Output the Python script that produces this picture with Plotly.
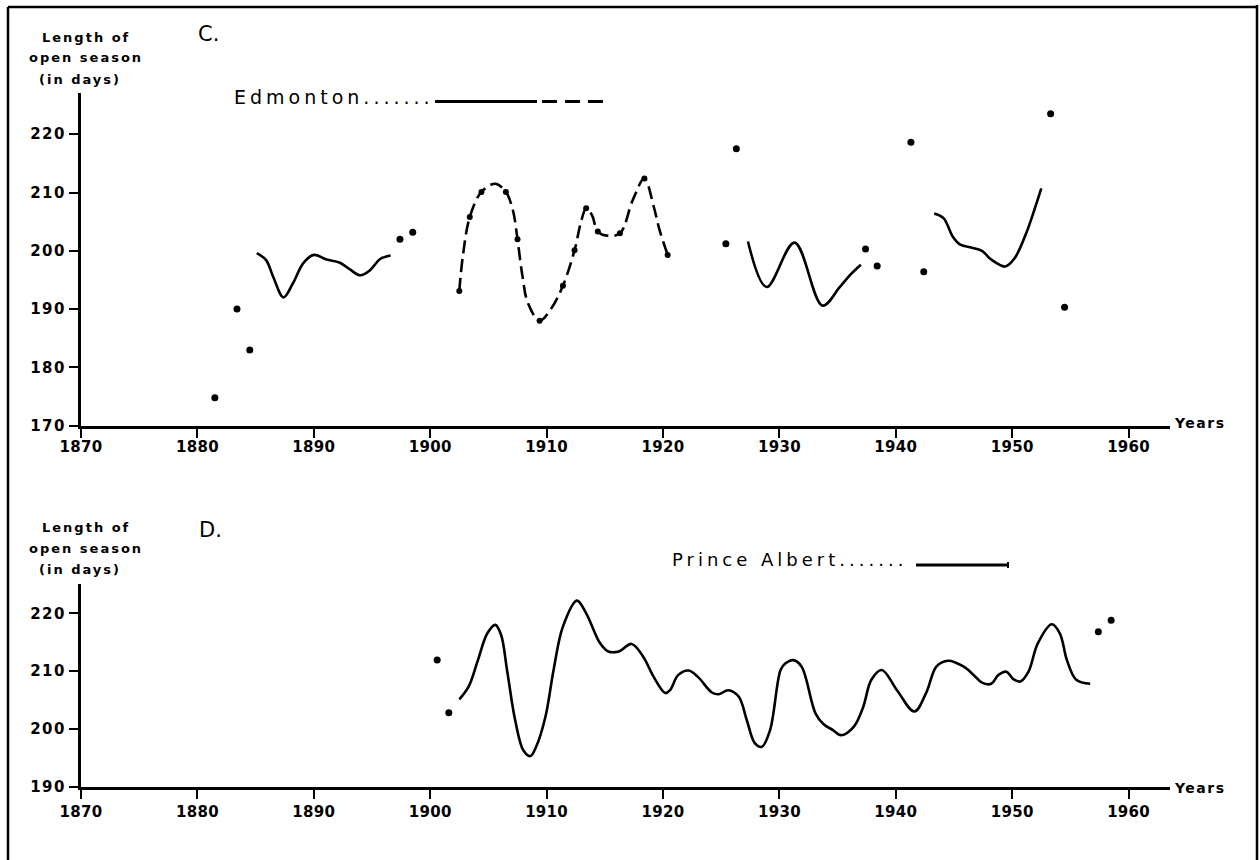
import plotly.graph_objects as go

# ---------------- C. Edmonton ----------------
# isolated annual values
edm_dot_years = [1881.5, 1883.4, 1884.5, 1897.4, 1898.5, 1925.4, 1926.3,
                 1937.4, 1938.4, 1941.3, 1942.4, 1953.3, 1954.5]
edm_dot_vals = [174.8, 190.0, 183.0, 202.0, 203.2, 201.2, 217.5,
                200.3, 197.4, 218.6, 196.4, 223.5, 190.3]

# smoothed solid segments (None separates the pieces)
edm_solid_years = [1885.1, 1885.9, 1886.5, 1887.4, 1888.2, 1889.1, 1890.0, 1891.1,
                   1892.2, 1893.1, 1894.0, 1894.8, 1895.7, 1896.6, None,
                   1927.3, 1928.9, 1931.3, 1933.7, 1935.2, 1936.1, 1937.0, None,
                   1943.3, 1944.1, 1944.9, 1945.5, 1946.4, 1947.4, 1948.2, 1949.4,
                   1950.2, 1951.2, 1951.9, 1952.5]
edm_solid_vals = [199.6, 198.4, 195.6, 192.0, 194.4, 197.9, 199.3, 198.5,
                  198.0, 196.8, 195.8, 196.6, 198.6, 199.2, None,
                  201.6, 193.8, 201.4, 190.6, 193.8, 195.9, 197.6, None,
                  206.4, 205.6, 202.4, 201.1, 200.6, 200.0, 198.5, 197.3,
                  198.7, 203.0, 207.0, 210.7]

# dashed segment 1902-1920
edm_dash_years = [1902.5, 1902.8, 1903.4, 1904.4, 1905.6, 1906.5, 1907.1, 1907.5,
                  1907.9, 1908.4, 1909.4, 1910.4, 1911.4, 1912.4, 1913.0, 1913.4,
                  1913.9, 1914.4, 1915.2, 1916.3, 1917.4, 1918.4, 1919.2, 1919.7, 1920.4]
edm_dash_vals = [193.1, 199.0, 205.8, 210.1, 211.5, 210.1, 207.0, 202.0,
                 196.0, 191.0, 188.0, 190.1, 194.0, 200.1, 205.3, 207.3,
                 206.1, 203.3, 202.6, 203.0, 208.7, 212.4, 207.6, 203.6, 199.3]
edm_dash_dot_years = [1902.5, 1903.4, 1904.4, 1906.5, 1907.5, 1909.4, 1911.4,
                      1912.4, 1913.4, 1914.4, 1916.3, 1918.4, 1920.4]
edm_dash_dot_vals = [193.1, 205.8, 210.1, 210.1, 202.0, 188.0, 194.0,
                     200.1, 207.3, 203.3, 203.0, 212.4, 199.3]

# ---------------- D. Prince Albert ----------------
pa_dot_years = [1900.6, 1901.6, 1957.4, 1958.5]
pa_dot_vals = [211.9, 202.8, 216.8, 218.8]

pa_years = [1902.5, 1903.3, 1904.1, 1904.9, 1905.6, 1906.1, 1906.6, 1907.3, 1908.0,
            1908.6, 1909.1, 1909.9, 1910.6, 1911.4, 1912.6, 1913.4, 1914.6, 1915.3,
            1916.2, 1917.3, 1918.3, 1919.2, 1920.2, 1920.6, 1921.3, 1922.2, 1923.0,
            1924.2, 1924.8, 1925.6, 1926.5, 1927.2, 1927.9, 1928.5, 1929.2, 1930.1,
            1930.5, 1931.2, 1931.9, 1933.1, 1933.8, 1934.6, 1935.3, 1936.4, 1937.2,
            1937.9, 1938.8, 1940.1, 1941.6, 1942.6, 1943.5, 1944.5, 1945.8, 1946.7,
            1947.4, 1948.2, 1948.8, 1949.5, 1950.1, 1950.7, 1951.4, 1952.2, 1953.4,
            1954.1, 1954.7, 1955.5, 1956.7]
pa_vals = [205.1, 207.3, 211.9, 216.5, 218.0, 216.2, 210.2, 201.5, 196.3,
           195.3, 196.9, 202.1, 210.2, 217.7, 222.2, 220.0, 214.8, 213.4,
           213.4, 214.7, 212.5, 209.0, 206.2, 206.7, 209.3, 210.1, 209.0,
           206.3, 206.0, 206.7, 205.6, 201.5, 197.5, 196.9, 199.8, 210.2,
           211.3, 211.9, 210.8, 202.7, 200.8, 199.8, 198.9, 200.4, 203.8,
           208.5, 210.2, 206.7, 203.0, 206.2, 210.8, 211.8, 210.8, 209.3,
           208.0, 207.8, 209.3, 209.9, 208.6, 208.2, 209.9, 214.8, 218.1,
           216.5, 211.9, 208.5, 207.8]

year_ticks = list(range(1870, 1961, 10))
edm_day_ticks = [170, 180, 190, 200, 210, 220]
pa_day_ticks = [190, 200, 210, 220]

W, H = 1260, 860
FONT = "DejaVu Sans"
INK = "#000000"


def px(x):
    return x / W


def py(y):
    return 1 - y / H


def spaced(s, sp=2, bold=False):
    body = f"<b>{s}</b>" if bold else s
    return f'<span style="letter-spacing:{sp}px">{body}</span>'


fig = go.Figure()

line_style = dict(color=INK, width=2.6)
dot_style = dict(color=INK, size=7)

# C. Edmonton
fig.add_trace(go.Scatter(x=edm_solid_years, y=edm_solid_vals, mode="lines",
                         line=dict(**line_style, shape="spline", smoothing=1.0),
                         connectgaps=False, xaxis="x", yaxis="y"))
fig.add_trace(go.Scatter(x=edm_dash_years, y=edm_dash_vals, mode="lines",
                         line=dict(**line_style, shape="spline", smoothing=1.0, dash="13px,6px"),
                         xaxis="x", yaxis="y"))
fig.add_trace(go.Scatter(x=edm_dash_dot_years, y=edm_dash_dot_vals, mode="markers",
                         marker=dict(color=INK, size=6), xaxis="x", yaxis="y"))
fig.add_trace(go.Scatter(x=edm_dot_years, y=edm_dot_vals, mode="markers",
                         marker=dot_style, xaxis="x", yaxis="y"))

# D. Prince Albert
fig.add_trace(go.Scatter(x=pa_years, y=pa_vals, mode="lines",
                         line=dict(**line_style, shape="spline", smoothing=1.0),
                         xaxis="x2", yaxis="y2"))
fig.add_trace(go.Scatter(x=pa_dot_years, y=pa_dot_vals, mode="markers",
                         marker=dot_style, xaxis="x2", yaxis="y2"))

x_dom = [px(81), px(1170)]
x_range = [1870, 1870 + (1170 - 81) / 11.64]

axis_common = dict(showline=True, linecolor=INK, linewidth=3, ticks="outside",
                   tickcolor=INK, tickwidth=2, ticklen=9, showgrid=False,
                   zeroline=False, mirror=False, automargin=False,
                   tickfont=dict(family=FONT, size=15, color=INK))


def tick_text(vals, sp):
    return [spaced(str(v), sp, bold=True) for v in vals]


fig.update_layout(
    width=W, height=H,
    margin=dict(l=0, r=0, t=0, b=0, pad=0, autoexpand=False),
    paper_bgcolor="white", plot_bgcolor="white", showlegend=False,
    xaxis=dict(domain=x_dom, range=x_range, anchor="y", ticklabelstandoff=-4,
               tickvals=year_ticks, ticktext=tick_text(year_ticks, 0.3), **axis_common),
    yaxis=dict(domain=[py(425.7), py(93.4)], range=[170, 227], anchor="x",
               tickvals=edm_day_ticks, ticktext=tick_text(edm_day_ticks, 1.5), **axis_common),
    xaxis2=dict(domain=x_dom, range=x_range, anchor="y2",
                tickvals=year_ticks, ticktext=tick_text(year_ticks, 0.3), **axis_common),
    yaxis2=dict(domain=[py(786.7), py(584)], range=[190, 225.07], anchor="x2",
                tickvals=pa_day_ticks, ticktext=tick_text(pa_day_ticks, 1.5), **axis_common),
)

annotations = []


def label(text, x, y, size=14, xanchor="center", sp=2.5, bold=False):
    annotations.append(dict(text=spaced(text, sp, bold), x=px(x), y=py(y),
                            xref="paper", yref="paper",
                            xanchor=xanchor, yanchor="middle", showarrow=False,
                            font=dict(family=FONT, size=size, color=INK)))


# axis titles
for top in (37, 527):
    label("Length of", 86, top, size=13, sp=2, bold=True)
    label("open season", 86, top + 21, size=13, sp=2, bold=True)
    label("(in days)", 80, top + 42, size=13, sp=2, bold=True)

label("C.", 196, 34, size=21, xanchor="left", sp=0)
label("D.", 197, 530, size=21, xanchor="left", sp=0)
label("Years", 1172, 423, size=14, xanchor="left", sp=1.5, bold=True)
label("Years", 1172, 788, size=14, xanchor="left", sp=1.5, bold=True)
label("Edmonton.......", 232, 97, size=19, xanchor="left", sp=4)
label("Prince Albert.......", 670, 559, size=18, xanchor="left", sp=4)

shapes = []


def seg(x0, y0, x1, y1, w=3):
    shapes.append(dict(type="line", xref="paper", yref="paper",
                       x0=px(x0), y0=py(y0), x1=px(x1), y1=py(y1),
                       line=dict(color=INK, width=w)))


# legend keys
seg(435, 101.5, 537, 101.5)
for a, b in [(542, 557), (565, 580), (588, 603)]:
    seg(a, 101.5, b, 101.5)
seg(916, 565, 1008, 565)
seg(1008, 562, 1008, 568, w=2)

# frame around the figure
seg(8, 7, 1257, 7, w=2.5)
seg(8, 7, 8, 862, w=2.5)
seg(1257, 5, 1257, 862, w=2.5)

fig.update_layout(annotations=annotations, shapes=shapes)

fig.write_html("out.html")
